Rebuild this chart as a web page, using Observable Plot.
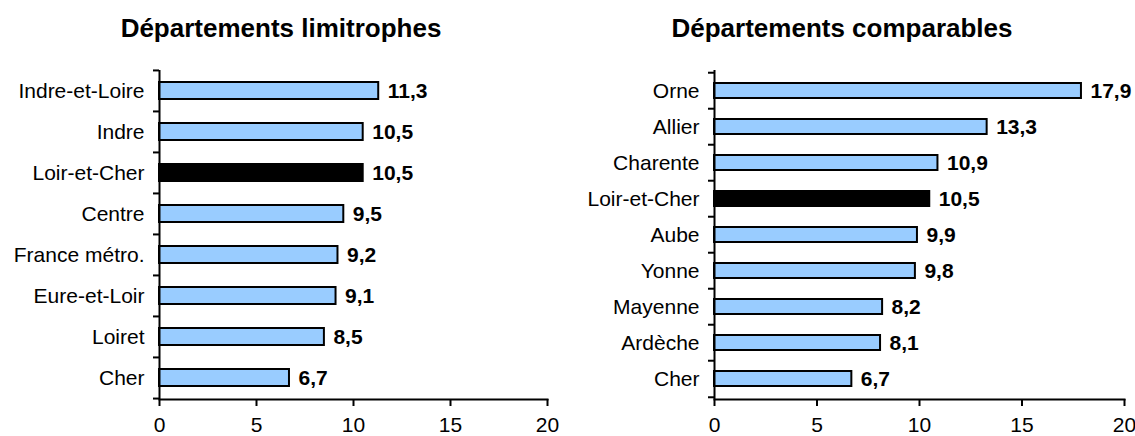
<!DOCTYPE html>
<html><head><meta charset="utf-8">
<script src="https://cdn.jsdelivr.net/npm/d3@7"></script>
<script src="https://cdn.jsdelivr.net/npm/@observablehq/plot@0.6"></script>
<style>
body{margin:0;background:#fff;font-family:"Liberation Sans",Arial,sans-serif;color:#000}
#wrap{position:relative;width:1135px;height:436px;overflow:hidden;background:#fff}
.title{position:absolute;top:13px;font-weight:bold;font-size:26px;white-space:nowrap;transform:translateX(-50%);line-height:30px}
.chart{position:absolute;top:50px}
.chart svg{overflow:visible}
</style></head><body><div id="wrap"></div>
<script>
const leftTitle = "Départements limitrophes";
const leftCategories = ["Indre-et-Loire","Indre","Loir-et-Cher","Centre","France métro.","Eure-et-Loir","Loiret","Cher"];
const leftValues = [11.3,10.5,10.5,9.5,9.2,9.1,8.5,6.7];
const rightTitle = "Départements comparables";
const rightCategories = ["Orne","Allier","Charente","Loir-et-Cher","Aube","Yonne","Mayenne","Ardèche","Cher"];
const rightValues = [17.9,13.3,10.9,10.5,9.9,9.8,8.2,8.1,6.7];
const xTicks = [0,5,10,15,20];
const highlight = "Loir-et-Cher";

const fmt = v => d3.format(".1f")(v).replace(".", ",");
const FONT = '"Liberation Sans", Arial, sans-serif';

function makeChart(cats, vals, o) {
  const data = cats.map((c, i) => ({name: c, value: vals[i]}));
  const H = 386, mt = 20, mb = 37;
  const step = (H - mt - mb) / cats.length;
  return Plot.plot({
    width: o.width, height: H,
    marginTop: mt, marginBottom: mb, marginLeft: o.ml, marginRight: o.mr,
    style: {fontFamily: FONT, fontSize: "21px", color: "black", background: "white", overflow: "visible"},
    x: {domain: [0, 20]},
    y: {domain: cats, paddingInner: 0.58, paddingOuter: 0.29},
    color: {type: "identity"},
    marks: [
      Plot.barX(data, {x: "value", y: "name", fill: d => d.name === highlight ? "black" : "#99CCFF", stroke: "black", strokeWidth: 2}),
      Plot.axisY({tickSize: 0, tickPadding: 15, fontSize: 21, label: null}),
      Plot.axisY({tickSize: 6, strokeWidth: 2, dy: -step / 2, tickFormat: () => "", label: null}),
      Plot.axisY([cats[cats.length - 1]], {tickSize: 6, strokeWidth: 2, dy: step / 2, tickFormat: () => "", label: null}),
      Plot.axisX(xTicks, {tickSize: 7, strokeWidth: 2, tickPadding: 11, fontSize: 21, label: null}),
      Plot.ruleX([0], {strokeWidth: 2}),
      Plot.frame({anchor: "bottom", strokeWidth: 2}),
      Plot.text(data, {x: "value", y: "name", text: d => fmt(d.value), dx: 9, textAnchor: "start", fontWeight: "bold", fontSize: 21})
    ]
  });
}

const wrap = document.getElementById("wrap");
function addTitle(t, cx) {
  const d = document.createElement("div");
  d.className = "title"; d.textContent = t; d.style.left = cx + "px";
  wrap.appendChild(d);
}
function addChart(el, left) {
  const d = document.createElement("div");
  d.className = "chart"; d.style.left = left + "px";
  d.appendChild(el); wrap.appendChild(d);
}
addTitle(leftTitle, 281);
addTitle(rightTitle, 842);
addChart(makeChart(leftCategories, leftValues, {width: 567, ml: 159, mr: 20}), 0);
addChart(makeChart(rightCategories, rightValues, {width: 568, ml: 147, mr: 11}), 567);
</script></body></html>
